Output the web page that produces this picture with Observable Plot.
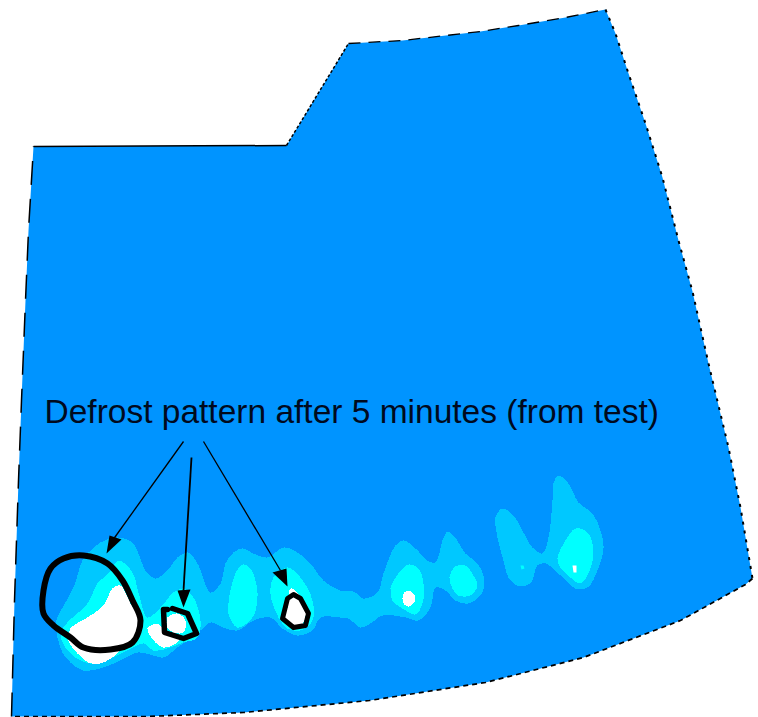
<!DOCTYPE html>
<html><head><meta charset="utf-8">
<script src="https://cdn.jsdelivr.net/npm/d3@7"></script>
<script src="https://cdn.jsdelivr.net/npm/@observablehq/plot@0.6"></script>
<style>html,body{margin:0;padding:0;background:#fff}svg{display:block}</style>
</head><body><div id="chart"></div>
<script>
const edgeTop=[[33,146],[286,145]];
const edgeShoulder=[[286,145],[348,43]];
const edgeUpper=[[348,43],[402,40],[480,31],[518,25],[565,17],[605,9]];
const edgeRight=[[605,9],[615,33],[627,70],[645,123],[662,177],[678,240],[692,291],[708,363],[728,447],[740,507],[752,578]];
const edgeBottom=[[752,578],[745,584],[680,620],[583,657],[485,682],[369,700],[243,712],[146,716],[11,716]];
const edgeLeft=[[11,716],[14,600],[18,480],[21,400],[25,300],[28,230],[33,146]];
const panelOutline=[...edgeTop,...edgeShoulder.slice(1),...edgeUpper.slice(1),...edgeRight.slice(1),...edgeBottom.slice(1),...edgeLeft.slice(1,-1)];

const level1Main=[[56,620],[65,602],[73,587],[82,560],[88,552],[100,542],[117,537],[132,542],[138,553],[145,570],[155,578],[167,570],[177,557],[188,552],[197,563],[210,592],[220,583],[225,563],[233,552],[242,548],[253,553],[267,557],[283,547],[297,552],[310,563],[323,580],[340,590],[353,591],[363,598],[377,592],[383,573],[395,545],[403,540],[415,548],[427,560],[435,562],[442,540],[447,531],[453,535],[465,553],[477,563],[483,575],[482,592],[468,603],[455,600],[445,590],[435,587],[430,607],[418,620],[405,617],[382,615],[370,623],[360,627],[348,618],[340,617],[320,617],[312,630],[297,635],[282,628],[270,617],[253,620],[237,630],[223,627],[210,622],[200,630],[187,640],[177,647],[163,657],[153,655],[137,652],[120,660],[100,668],[83,670],[70,662],[62,652],[57,637]];
const level1Right=[[495,517],[502,508],[513,515],[523,532],[532,547],[542,553],[548,537],[552,500],[553,483],[558,475],[568,483],[578,502],[592,513],[600,530],[603,547],[597,570],[587,587],[575,588],[560,575],[545,563],[537,565],[530,583],[517,585],[508,577],[503,560],[497,537]];

const level2Left=[[67,622],[87,603],[97,583],[108,573],[118,560],[132,572],[138,592],[147,617],[160,607],[173,592],[183,588],[193,597],[200,620],[197,637],[183,642],[167,648],[153,650],[143,643],[127,650],[110,658],[90,663],[75,657],[65,647],[60,633]];
const level2B=[[228,613],[235,573],[242,564],[250,568],[257,592],[252,617],[237,627]];
const level2C=[[270,593],[273,577],[287,567],[300,577],[312,600],[312,620],[300,630],[287,628],[278,617]];
const level2D=[[390,588],[398,573],[408,564],[418,568],[423,583],[422,603],[415,614],[402,608],[392,600]];
const level2E=[[449,577],[455,566],[465,565],[473,575],[477,585],[470,595],[458,595],[452,588]];
const level2F=[[557,558],[565,540],[575,528],[587,532],[593,550],[588,573],[580,583],[570,577],[560,567]];
const level2G=[[520,565],[523,565],[524,568],[521,569]];

const whiteA=[[70,628],[87,617],[103,605],[112,588],[120,585],[130,603],[140,620],[137,640],[120,648],[117,653],[100,663],[88,662],[77,653],[68,640]];
const whiteB=[[147,628],[157,623],[162,628],[167,633],[180,635],[177,642],[163,647],[155,642]];
const whiteC=[[167,617],[177,613],[185,620],[183,632],[173,632],[167,627]];
const whiteD=[[290,588],[297,592],[305,610],[303,622],[295,627],[285,620],[288,603]];
const whiteE=[[402,598],[404,592],[408,590],[412,592],[415,598],[412,604],[408,606],[404,604]];
const whiteF=[[572,565],[576,565],[576,572],[573,572]];

const ringLarge=[[83,555],[63,558],[50,568],[43,590],[43,613],[53,625],[70,637],[83,647],[110,649],[132,642],[140,620],[132,600],[122,580],[107,563]];
const ringSmall=[[172,608],[187,613],[196,633],[183,638],[164,632],[163,609],[167,609]];
const ringThird=[[293,594],[287,598],[282,618],[293,627],[305,625],[308,613],[300,598]];

const arrowShaftA=[[183,441],[112,540]];
const arrowShaftB=[[191,457],[183,590]];
const arrowShaftC=[[203,441],[280,570]];
const arrowHeadA=[[106,553],[109,535],[121,539]];
const arrowHeadB=[[183,607],[177,590],[190,589]];
const arrowHeadC=[[287,586],[272,572],[286,568]];

const labelText=["Defrost pattern after 5 minutes (from test)"];

const px=d=>d[0],py=d=>d[1];
const flat=(pts,fill)=>Plot.line(pts,{x:px,y:py,fill,stroke:"none",curve:"linear-closed"});
const region=(pts,fill)=>Plot.line(pts,{x:px,y:py,fill,stroke:"none",curve:"catmull-rom-closed",shapeRendering:"crispEdges"});
const edge=(pts,dash,w=1.5)=>Plot.line(pts,{x:px,y:py,stroke:"#000",strokeWidth:w,strokeDasharray:dash,strokeLinecap:"butt",curve:"linear"});
const COL={base:"#0094ff",l1:"#00c8ff",l2:"#00ffff",w:"#ffffff"};

const plot=Plot.plot({
  width:758,height:717,margin:0,
  x:{domain:[0,758],axis:null},
  y:{domain:[717,0],axis:null},
  style:{background:"#fff"},
  marks:[
    flat(panelOutline,COL.base),
    region(level1Main,COL.l1),region(level1Right,COL.l1),
    region(level2Left,COL.l2),region(level2B,COL.l2),region(level2C,COL.l2),region(level2D,COL.l2),region(level2E,COL.l2),region(level2F,COL.l2),flat(level2G,COL.l2),
    region(whiteA,COL.w),region(whiteB,COL.w),region(whiteC,COL.w),region(whiteD,COL.w),region(whiteE,COL.w),flat(whiteF,COL.w),
    edge(edgeTop,null,1.5),
    edge(edgeShoulder,"3 2",1.5),
    edge(edgeUpper,"12 8",1.3),
    edge(edgeRight,"3 6",2),
    edge(edgeBottom,"5 4",1.7),
    edge(edgeLeft,"24 14",1.5),
    Plot.line(ringLarge,{x:px,y:py,stroke:"#000",strokeWidth:6,curve:"catmull-rom-closed"}),
    Plot.line(ringSmall,{x:px,y:py,stroke:"#000",strokeWidth:5.5,curve:"linear",strokeLinejoin:"round"}),
    Plot.line(ringThird,{x:px,y:py,stroke:"#000",strokeWidth:5,curve:"linear-closed",strokeLinejoin:"round"}),
    edge(arrowShaftA,null,1.3),edge(arrowShaftB,null,1.8),edge(arrowShaftC,null,1.3),
    flat(arrowHeadA,"#000"),flat(arrowHeadB,"#000"),flat(arrowHeadC,"#000"),
    Plot.text(labelText,{x:()=>44,y:()=>412,text:d=>d,textAnchor:"start",fontSize:33.5,fontFamily:"Liberation Sans",fill:"#000a1e"})
  ]
});
document.getElementById("chart").append(plot);
</script></body></html>
